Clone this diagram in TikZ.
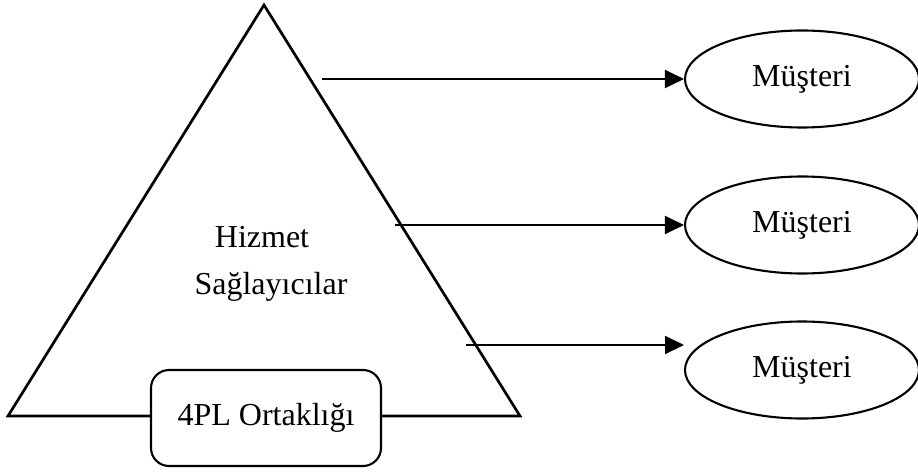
\documentclass[tikz,border=0pt]{standalone}
\usepackage{fontspec}
\setmainfont{Liberation Serif}
\usetikzlibrary{arrows.meta,shapes.geometric}

\tikzset{
  label text/.style={font=\fontsize{32}{37}\selectfont, inner sep=0pt},
  customer/.style={draw, line width=2.1pt, ellipse, minimum width=234pt,
    minimum height=97pt, inner sep=0pt, font=\fontsize{32}{37}\selectfont},
  partner/.style={draw, line width=2.1pt, rounded corners=18pt, fill=white,
    minimum width=230pt, minimum height=96pt, inner sep=0pt,
    font=\fontsize{32}{37}\selectfont},
  flow/.style={line width=2.1pt, -{Triangle[length=19pt,width=18pt]}},
  pyramid/.style={line width=2.7pt, line join=miter}
}

\begin{document}
\begin{tikzpicture}[x=1pt,y=-1pt]
  \useasboundingbox (0,0) rectangle (918,473);

  % pyramid of service providers
  \coordinate (apex) at (264,5);
  \coordinate (bl) at (8,416);
  \coordinate (br) at (520,416);
  \draw[pyramid] (apex) -- (br) -- (bl) -- cycle;

  \node[label text] (hizmet) at (262,237) {Hizmet};
  \node[label text] (saglayici) at (271,287) {Sağlayıcılar};

  % partnership box sitting on the base
  \node[partner] (fourpl) at (266,418) {\raisebox{4pt}{4PL Ortaklığı}};

  % customers
  \node[customer] (m1) at (802,79) {Müşteri};
  \node[customer] (m2) at (802,225) {Müşteri};
  \node[customer] (m3) at (802,370) {Müşteri};

  % service flows
  \coordinate (s1) at (322,79);
  \coordinate (s2) at (395,225);
  \coordinate (s3) at (466,345);
  \coordinate (t3) at (684,345);
  \draw[flow] (s1) -- (m1.west);
  \draw[flow] (s2) -- (m2.west);
  \draw[flow] (s3) -- (t3);
\end{tikzpicture}
\end{document}
